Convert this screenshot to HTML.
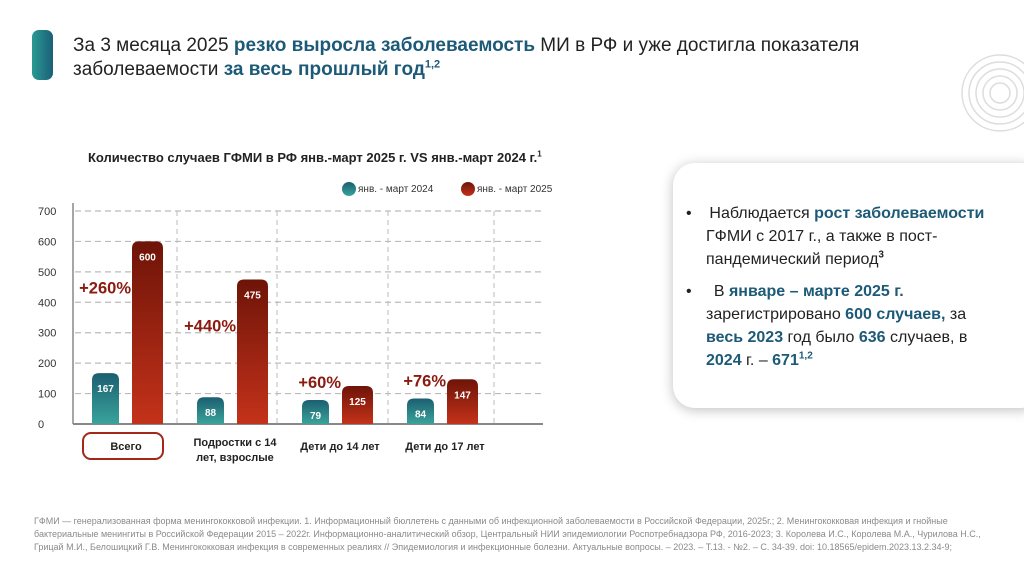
<!DOCTYPE html>
<html><head><meta charset="utf-8"><style>
body{margin:0;width:1024px;height:574px;background:#fff;font-family:"Liberation Sans",sans-serif;position:relative;overflow:hidden}
.a{position:absolute}
.b{color:#1d5a78;font-weight:bold}
sup{line-height:0}
</style></head><body>
<div class="a" style="left:32px;top:30px;width:21px;height:50px;border-radius:7px;background:linear-gradient(90deg,#2a9a93,#1b5f78)"></div>
<div class="a" style="left:73px;top:34px;font-size:19px;line-height:24px;color:#222;width:880px">За 3 месяца 2025 <span class="b">резко выросла заболеваемость</span> МИ в РФ и уже достигла показателя<br>заболеваемости <span class="b">за весь прошлый год</span><sup style="font-size:11px;font-weight:bold;color:#1d5a78">1,2</sup></div>
<svg class="a" style="left:935px;top:50px" width="89" height="90"><g fill="none" stroke="#ddd" stroke-width="1.5"><circle cx="65" cy="43" r="10"/><circle cx="65" cy="43" r="17"/><circle cx="65" cy="43" r="24"/><circle cx="65" cy="43" r="31"/><circle cx="65" cy="43" r="38"/></g></svg>
<div class="a" style="left:673px;top:163px;width:370px;height:245px;border-radius:22px;background:#fff;box-shadow:0 2px 12px rgba(0,0,0,0.25)"></div>
<div class="a" style="left:686px;top:202px;width:304px;font-size:16px;line-height:23px;color:#222">
<div style="padding-left:20px;text-indent:-20px">•&nbsp;&nbsp;&nbsp;&nbsp;Наблюдается <span class="b">рост заболеваемости</span> ГФМИ с 2017 г., а также в пост-пандемический период<sup style="font-size:10px;font-weight:bold">3</sup></div>
<div style="padding-left:20px;text-indent:-20px;margin-top:9px">•&nbsp;&nbsp;&nbsp;&nbsp; В <span class="b">январе – марте 2025 г.</span> зарегистрировано <span class="b">600 случаев,</span> за <span class="b">весь 2023</span> год было <span class="b">636</span> случаев, в <span class="b">2024</span> г. – <span class="b">671<sup style="font-size:10px">1,2</sup></span></div>
</div>
<div class="a" style="left:88px;top:150px;font-size:13px;font-weight:bold;color:#222">Количество случаев ГФМИ в РФ янв.-март 2025 г. VS янв.-март 2024 г.<sup style="font-size:8px">1</sup></div>
<svg class="a" id="chart" style="left:0;top:170px" width="600" height="300"></svg>
<div class="a" style="left:34px;top:515px;width:960px;font-size:9px;line-height:13px;color:#8a8a8a">ГФМИ — генерализованная форма менингококковой инфекции. 1. Информационный бюллетень с данными об инфекционной заболеваемости в Российской Федерации, 2025г.; 2. Менингококковая инфекция и гнойные бактериальные менингиты в Российской Федерации 2015 – 2022г. Информационно-аналитический  обзор, Центральный НИИ эпидемиологии Роспотребнадзора РФ, 2016-2023; 3. Королева И.С., Королева М.А., Чурилова Н.С., Грицай М.И., Белошицкий Г.В. Менингококковая инфекция в современных реалиях // Эпидемиология и инфекционные болезни. Актуальные вопросы. – 2023. – Т.13. - №2. – С. 34-39. doi: 10.18565/epidem.2023.13.2.34-9;</div>
<script>
const categories=["Всего","Подростки с 14|лет, взрослые","Дети до 14 лет","Дети до 17 лет"];
const values2024=[167,88,79,84];
const values2025=[600,475,125,147];
const growthLabels=["+260%","+440%","+60%","+76%"];
const yTicks=[0,100,200,300,400,500,600,700];
const svg=document.getElementById('chart');
const NS='http://www.w3.org/2000/svg';
const OY=170;
function y(v){return 424-OY-v*(213/700);}
function xc(i){return 127+i*105;}
function mk(t,a,name){const e=document.createElementNS(NS,t);for(const k in a)e.setAttribute(k,a[k]);


svg.appendChild(e);return e;}
svg.innerHTML='<defs><linearGradient id="gt" x1="0" y1="0" x2="0" y2="1"><stop offset="0" stop-color="#1b5f70"/><stop offset="1" stop-color="#3aa39c"/></linearGradient><linearGradient id="gr" x1="0" y1="0" x2="0" y2="1"><stop offset="0" stop-color="#6e1408"/><stop offset="1" stop-color="#c4321a"/></linearGradient></defs>';
yTicks.forEach(v=>{
 if(v>0)mk('line',{x1:75,x2:543,y1:y(v),y2:y(v),stroke:'#bbb','stroke-dasharray':'6,4','stroke-width':1.2},'gridline-'+v);
 const t=mk('text',{x:38,y:y(v)+4,'font-size':11,fill:'#333'},'y-tick-'+v);t.textContent=v;
});
[177,277,388,494].forEach((x,i)=>mk('line',{x1:x,x2:x,y1:y(700),y2:y(0),stroke:'#bbb','stroke-dasharray':'5,4'},'divider-'+i));
mk('line',{x1:73,x2:73,y1:y(700)-8,y2:y(0),stroke:'#888','stroke-width':1.5},'y-axis');
mk('line',{x1:73,x2:543,y1:y(0),y2:y(0),stroke:'#888','stroke-width':2},'x-axis');
function bar(x,w,v,fill,name){
 const top=y(v),r=7;
 mk('path',{d:`M${x},${y(0)}V${top+r}Q${x},${top} ${x+r},${top}H${x+w-r}Q${x+w},${top} ${x+w},${top+r}V${y(0)}Z`,fill:fill},name);
 const t=mk('text',{x:x+w/2,y:top+19,'font-size':10,'font-weight':'bold',fill:'#fff','text-anchor':'middle'},name+'-label');t.textContent=v;
}
categories.forEach((c,i)=>{
 const cx=xc(i);
 bar(cx-35,27,values2024[i],'url(#gt)','bar-2024-'+i);
 bar(cx+5,31,values2025[i],'url(#gr)','bar-2025-'+i);
 const gy=Math.min(y(values2025[i])+52, y(values2024[i])-12);
 const g=mk('text',{x:cx+4,y:gy,'font-size':16.5,'font-weight':'bold',fill:'#8b1a10','text-anchor':'end'},'growth-'+i);
 g.textContent=growthLabels[i];
 const parts=c.split('|');
 parts.forEach((p,j)=>{const t=mk('text',{x:cx+(i==0?-1:3),y:(parts.length>1?276:280)+j*15,'font-size':11,'font-weight':'bold',fill:'#222','text-anchor':'middle'},'x-label-'+i+'-'+j);t.textContent=p;});
});
mk('rect',{x:83,y:263,width:80,height:26,rx:8,fill:'none',stroke:'#a3281a','stroke-width':2},'total-highlight');
mk('circle',{cx:349,cy:19,r:7,fill:'url(#gt)'},'legend-2024-swatch');
let t=mk('text',{x:358,y:22,'font-size':10,fill:'#333'},'legend-2024');t.textContent='янв. - март 2024';
mk('circle',{cx:468,cy:19,r:7,fill:'url(#gr)'},'legend-2025-swatch');
t=mk('text',{x:477,y:22,'font-size':10,fill:'#333'},'legend-2025');t.textContent='янв. - март 2025';
</script>
</body></html>
